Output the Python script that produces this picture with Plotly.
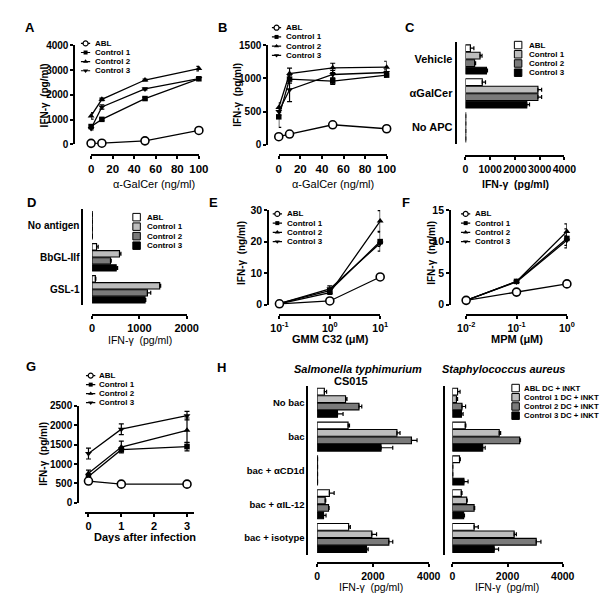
import plotly.graph_objects as go

W, H = 616, 599
FONT = "Liberation Sans, Arial, sans-serif"

# ---------------- data ----------------
SERIES = ["ABL", "Control 1", "Control 2", "Control 3"]
H_LEGEND = ["ABL DC + iNKT", "Control 1 DC + iNKT", "Control 2 DC + iNKT", "Control 3 DC + iNKT"]

# A
A_X = [0, 10, 50, 100]
A_ABL = [40, 45, 140, 560]
A_C1 = [720, 1010, 1850, 2650]
A_C2 = [1150, 1820, 2600, 3060]
A_C3 = [640, 1510, 2240, 2660]
A_E_ABL = [20, 20, 30, 40]
A_E_C1 = [40, 40, 50, 60]
A_E_C2 = [130, 50, 40, 90]
A_E_C3 = [60, 90, 40, 50]
A_XT = [0, 20, 40, 60, 80, 100]
A_YT = [0, 1000, 2000, 3000, 4000]

# B
B_X = [0, 10, 50, 100]
B_ABL = [120, 160, 300, 240]
B_C1 = [420, 990, 960, 1050]
B_C2 = [560, 1075, 1160, 1170]
B_C3 = [500, 830, 1060, 1090]
B_E_ABL = [20, 40, 40, 30]
B_E_C1 = [160, 60, 50, 30]
B_E_C2 = [70, 80, 70, 90]
B_E_C3 = [60, 180, 60, 40]
B_XT = [0, 20, 40, 60, 80, 100]
B_YT = [0, 500, 1000, 1500]

# C
C_CATS = ["Vehicle", "αGalCer", "No APC"]
C_ABL = [200, 680, 10]
C_C1 = [590, 2930, 10]
C_C2 = [370, 2930, 10]
C_C3 = [850, 2480, 10]
C_E_ABL = [140, 130, 0]
C_E_C1 = [80, 150, 0]
C_E_C2 = [40, 150, 0]
C_E_C3 = [40, 110, 0]
C_XT = [0, 1000, 2000, 3000, 4000]

# D
D_CATS = ["No antigen", "BbGL-IIf", "GSL-1"]
D_ABL = [5, 95, 70]
D_C1 = [5, 580, 1430]
D_C2 = [5, 390, 1170]
D_C3 = [5, 510, 1120]
D_E_ABL = [0, 35, 10]
D_E_C1 = [0, 30, 20]
D_E_C2 = [0, 15, 70]
D_E_C3 = [0, 30, 15]
D_XT = [0, 1000, 2000]

# E
E_X = [0.1, 1, 10]
E_ABL = [0.3, 1.2, 8.8]
E_C1 = [0.4, 4.5, 20.0]
E_C2 = [0.3, 3.8, 26.5]
E_C3 = [0.35, 5.0, 19.5]
E_E_ABL = [0.1, 0.3, 0.4]
E_E_C1 = [0.1, 0.8, 3.0]
E_E_C2 = [0.1, 0.5, 3.3]
E_E_C3 = [0.1, 1.0, 1.0]
E_XT = [0.1, 1, 10]
E_XTT = ["10<sup>-1</sup>", "10<sup>0</sup>", "10<sup>1</sup>"]
E_YT = [0, 10, 20, 30]

# F
F_X = [0.01, 0.1, 1]
F_ABL = [0.7, 2.0, 3.3]
F_C1 = [0.7, 3.7, 10.5]
F_C2 = [0.7, 3.7, 11.6]
F_C3 = [0.7, 3.6, 10.2]
F_E_ABL = [0.05, 0.2, 0.2]
F_E_C1 = [0.1, 0.2, 1.5]
F_E_C2 = [0.1, 0.2, 1.2]
F_E_C3 = [0.1, 0.2, 0.8]
F_XT = [0.01, 0.1, 1]
F_XTT = ["10<sup>-2</sup>", "10<sup>-1</sup>", "10<sup>0</sup>"]
F_YT = [0, 5, 10, 15]

# G
G_X = [0, 1, 3]
G_ABL = [560, 480, 480]
G_C1 = [680, 1370, 1450]
G_C2 = [760, 1440, 1870]
G_C3 = [1270, 1900, 2250]
G_E_ABL = [30, 20, 20]
G_E_C1 = [50, 50, 110]
G_E_C2 = [80, 150, 320]
G_E_C3 = [140, 140, 110]
G_XT = [0, 1, 2, 3]
G_YT = [0, 500, 1000, 1500, 2000, 2500]

# H
H_CATS = ["No bac", "bac", "bac + αCD1d", "bac + αIL-12", "bac + isotype"]
HS_ABL = [260, 1110, 15, 440, 1130]
HS_C1 = [1020, 2860, 15, 290, 1960]
HS_C2 = [1500, 3380, 15, 410, 2570]
HS_C3 = [730, 2290, 15, 230, 1770]
HS_E_ABL = [80, 50, 0, 170, 60]
HS_E_C1 = [50, 110, 0, 20, 170]
HS_E_C2 = [100, 200, 0, 20, 140]
HS_E_C3 = [200, 420, 0, 90, 60]
HA_ABL = [190, 470, 260, 325, 790]
HA_C1 = [150, 1700, 15, 520, 2240]
HA_C2 = [350, 2440, 15, 790, 3040]
HA_C3 = [330, 1100, 420, 410, 1515]
HA_E_ABL = [90, 20, 30, 25, 150]
HA_E_C1 = [40, 50, 0, 20, 80]
HA_E_C2 = [130, 30, 0, 20, 170]
HA_E_C3 = [60, 90, 150, 30, 160]
H_XT = [0, 2000, 4000]

# ---------------- styling ----------------
LINE_MARKERS = [
    dict(symbol="circle", size=8, color="white", line=dict(color="black", width=1.6)),
    dict(symbol="square", size=5.5, color="black"),
    dict(symbol="triangle-up", size=6, color="black"),
    dict(symbol="triangle-down", size=6, color="black"),
]
LEG_MARKERS = [
    dict(symbol="circle", size=5, color="white", line=dict(color="black", width=1.2)),
    dict(symbol="square", size=4, color="black"),
    dict(symbol="triangle-up", size=4.5, color="black"),
    dict(symbol="triangle-down", size=4.5, color="black"),
]
BAR_COLORS = ["white", "#bdbdbd", "#7a7a7a", "black"]

def fx(p):
    return p / W

def fy(p):
    return 1 - p / H

layout = dict(
    width=W, height=H, autosize=False,
    margin=dict(l=0, r=0, t=0, b=0, pad=0),
    paper_bgcolor="white", plot_bgcolor="white",
    showlegend=False, barmode="group", bargap=0.12, bargroupgap=0.1,
    font=dict(family=FONT, color="black"),
)
data = []
ann = []
count = [0]

AX = dict(showline=True, linecolor="black", linewidth=1.8, ticks="outside",
          ticklen=3, tickwidth=1.8, tickcolor="black", showgrid=False,
          zeroline=False, tickangle=0)

def new_axes(xdom, ydom, xline, yline, xkw, ykw, visible=True):
    count[0] += 1
    k = "" if count[0] == 1 else str(count[0])
    xd = dict(domain=[fx(xdom[0]), fx(xdom[1])], anchor="free",
              position=max(0, min(1, fy(xline))), fixedrange=True)
    yd = dict(domain=[fy(ydom[1]), fy(ydom[0])], anchor="free",
              position=max(0, min(1, fx(yline))), fixedrange=True)
    if visible:
        xd.update(AX)
        yd.update(AX)
    else:
        xd.update(visible=False)
        yd.update(visible=False)
    xd.update(xkw)
    yd.update(ykw)
    layout["xaxis" + k] = xd
    layout["yaxis" + k] = yd
    return "x" + k, "y" + k

def txt(x, y, s, size, bold=True, xanchor="center", yanchor="middle", angle=0):
    ann.append(dict(x=fx(x), y=fy(y), xref="paper", yref="paper", text=s,
                    showarrow=False, xanchor=xanchor, yanchor=yanchor,
                    textangle=angle,
                    font=dict(family=FONT, size=size, color="black",
                              weight="bold" if bold else "normal")))

def tf(size, bold=True):
    return dict(family=FONT, size=size, color="black", weight="bold" if bold else "normal")

def line_panel(xa, ya, xs, ys_list, es_list):
    order = [1, 2, 3, 0]
    for i in order:
        data.append(go.Scatter(
            x=xs, y=ys_list[i], xaxis=xa, yaxis=ya, mode="lines+markers",
            line=dict(color="black", width=1.3), marker=LINE_MARKERS[i],
            error_y=dict(type="data", array=es_list[i], color="black", thickness=1.2, width=2.5),
            cliponaxis=False, name=SERIES[i]))

def bar_panel(xa, ya, cats, vals_list, es_list):
    for i in range(4):
        data.append(go.Bar(
            y=cats, x=vals_list[i], orientation="h", xaxis=xa, yaxis=ya,
            marker=dict(color=BAR_COLORS[i], line=dict(color="black", width=1.1)),
            error_x=dict(type="data", array=es_list[i], arrayminus=[0] * len(es_list[i]),
                         symmetric=False, color="black", thickness=1.2, width=2),
            name=SERIES[i]))

def line_legend(cx, tx, row0, step, size=8):
    xa, ya = new_axes((cx - 5, cx + 5), (row0 - step / 2, row0 + step * 3.5), 0, 0,
                      dict(range=[0, 1]), dict(range=[3.5, -0.5]), visible=False)
    for i in range(4):
        data.append(go.Scatter(x=[0, 1], y=[i, i], xaxis=xa, yaxis=ya, mode="lines",
                               line=dict(color="black", width=1.2), cliponaxis=False,
                               hoverinfo="skip"))
        data.append(go.Scatter(x=[0.5], y=[i], xaxis=xa, yaxis=ya, mode="markers",
                               marker=LEG_MARKERS[i], cliponaxis=False, hoverinfo="skip"))
        txt(tx, row0 + i * step, SERIES[i], size, xanchor="left")

def bar_legend(cx, tx, row0, step, labels, size=8):
    xa, ya = new_axes((cx - 5, cx + 5), (row0 - step / 2, row0 + step * 3.5), 0, 0,
                      dict(range=[0, 1]), dict(range=[3.5, -0.5]), visible=False)
    for i in range(4):
        data.append(go.Scatter(x=[0.5], y=[i], xaxis=xa, yaxis=ya, mode="markers",
                               marker=dict(symbol="square", size=7.5, color=BAR_COLORS[i],
                                           line=dict(color="black", width=1)),
                               cliponaxis=False, hoverinfo="skip"))
        txt(tx, row0 + i * step, labels[i], size, xanchor="left")

# ---------------- panel A ----------------
xa, ya = new_axes((76.7, 188.3), (32, 133), 144.3, 59.3,
                  dict(range=[0, 100], tickvals=A_XT, tickfont=tf(11.5)),
                  dict(range=[0, 4000], tickvals=A_YT, tickfont=tf(10)))
line_panel(xa, ya, A_X, [A_ABL, A_C1, A_C2, A_C3], [A_E_ABL, A_E_C1, A_E_C2, A_E_C3])
line_legend(71, 78.3, 30, 9.3)
txt(13, 14, "A", 13)
txt(28, 83, "IFN-γ  (pg/ml)", 10, angle=-90)
txt(142, 173, "α-GalCer (ng/ml)", 11, bold=False)

# ---------------- panel B ----------------
xa, ya = new_axes((271, 382.7), (32, 133.3), 144.3, 259,
                  dict(range=[0, 100], tickvals=B_XT, tickfont=tf(11.5)),
                  dict(range=[0, 1500], tickvals=B_YT, tickfont=tf(10)))
line_panel(xa, ya, B_X, [B_ABL, B_C1, B_C2, B_C3], [B_E_ABL, B_E_C1, B_E_C2, B_E_C3])
line_legend(268.7, 276, 14, 9.4)
txt(213, 14, "B", 13)
txt(228.3, 83, "IFN-γ  (pg/ml)", 10, angle=-90)
txt(327.5, 173, "α-GalCer (ng/ml)", 11, bold=False)

# ---------------- panel C ----------------
xa, ya = new_axes((464.3, 566.7), (29, 133), 145, 454,
                  dict(range=[0, 4000], tickvals=C_XT, tickfont=tf(10.5)),
                  dict(type="category", range=[2.5, -0.5], ticks="", tickfont=tf(11)))
bar_panel(xa, ya, C_CATS, [C_ABL, C_C1, C_C2, C_C3], [C_E_ABL, C_E_C1, C_E_C2, C_E_C3])
bar_legend(518.8, 527.7, 31.7, 9.4, SERIES)
txt(407, 14, "C", 13)
txt(516, 173, "IFN-γ  (pg/ml)", 10.5)

# ---------------- panel D ----------------
xa, ya = new_axes((77.7, 175.7), (199.3, 297.3), 307.3, 67.7,
                  dict(range=[0, 2000], tickvals=D_XT, tickfont=tf(11)),
                  dict(type="category", range=[2.5, -0.5], ticks="", tickfont=tf(10)))
bar_panel(xa, ya, D_CATS, [D_ABL, D_C1, D_C2, D_C3], [D_E_ABL, D_E_C1, D_E_C2, D_E_C3])
bar_legend(123.8, 133, 207.3, 9.7, SERIES)
txt(15, 192, "D", 13)
txt(127, 333, "IFN-γ  (pg/ml)", 10.5, bold=False)

# ---------------- panel E ----------------
xa, ya = new_axes((271.7, 376), (200, 296.7), 307.3, 260,
                  dict(type="log", range=[-1, 1], tickvals=E_XT, ticktext=E_XTT, tickfont=tf(10.5)),
                  dict(range=[0, 30], tickvals=E_YT, tickfont=tf(10.5)))
line_panel(xa, ya, E_X, [E_ABL, E_C1, E_C2, E_C3], [E_E_ABL, E_E_C1, E_E_C2, E_E_C3])
line_legend(269.5, 277, 204, 9.4)
txt(203, 192, "E", 13)
txt(231.7, 244, "IFN-γ  (ng/ml)", 10, angle=-90)
txt(325, 332, "GMM C32 (μM)", 11)

# ---------------- panel F ----------------
xa, ya = new_axes((465, 569.3), (200, 296.7), 307.3, 448.3,
                  dict(type="log", range=[-2, 0], tickvals=F_XT, ticktext=F_XTT, tickfont=tf(10.5)),
                  dict(range=[0, 15], tickvals=F_YT, tickfont=tf(10.5)))
line_panel(xa, ya, F_X, [F_ABL, F_C1, F_C2, F_C3], [F_E_ABL, F_E_C1, F_E_C2, F_E_C3])
line_legend(464.5, 471.7, 204, 9.4)
txt(403, 192, "F", 13)
txt(428.3, 244, "IFN-γ  (ng/ml)", 10, angle=-90)
txt(517.5, 332, "MPM (μM)", 11)

# ---------------- panel G ----------------
xa, ya = new_axes((70.6, 182.8), (400, 498.7), 509.3, 63.3,
                  dict(range=[-0.1, 3.2], tickvals=G_XT, tickfont=tf(11)),
                  dict(range=[0, 2500], tickvals=G_YT, tickfont=tf(10)))
line_panel(xa, ya, G_X, [G_ABL, G_C1, G_C2, G_C3], [G_E_ABL, G_E_C1, G_E_C2, G_E_C3])
line_legend(76.3, 83.3, 369, 9.2)
txt(15, 360, "G", 13)
txt(26.7, 449, "IFN-γ  (pg/ml)", 10, angle=-90)
txt(132, 534, "Days after infection", 11)

# ---------------- panel H ----------------
xa, ya = new_axes((310.7, 426.3), (379.5, 552), 560.7, 300.7,
                  dict(range=[0, 4000], tickvals=H_XT, tickfont=tf(10.5)),
                  dict(type="category", range=[4.5, -0.5], ticks="", tickfont=tf(9.5)))
bar_panel(xa, ya, H_CATS, [HS_ABL, HS_C1, HS_C2, HS_C3], [HS_E_ABL, HS_E_C1, HS_E_C2, HS_E_C3])
xa, ya = new_axes((450.7, 565), (379.5, 552), 560.7, 441.7,
                  dict(range=[0, 4000], tickvals=H_XT, tickfont=tf(10.5)),
                  dict(type="category", range=[4.5, -0.5], ticks="", showticklabels=False))
bar_panel(xa, ya, H_CATS, [HA_ABL, HA_C1, HA_C2, HA_C3], [HA_E_ABL, HA_E_C1, HA_E_C2, HA_E_C3])
bar_legend(516.2, 523.3, 381.7, 9.4, H_LEGEND, size=7.8)
txt(212, 361, "H", 13)
txt(353, 362, "<i>Salmonella typhimurium</i>", 11)
txt(346, 375, "CS015", 11)
txt(504, 362, "<i>Staphylococcus aureus</i>", 11)
txt(366.7, 584.3, "IFN-γ  (pg/ml)", 10.5, bold=False)
txt(507.5, 584.3, "IFN-γ  (pg/ml)", 10.5, bold=False)

layout["annotations"] = ann
fig = go.Figure(data=data, layout=layout)
fig.write_html("out.html")
